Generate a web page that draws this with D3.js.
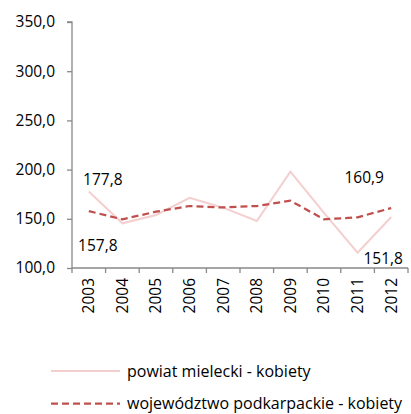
<!DOCTYPE html>
<html>
<head>
<meta charset="utf-8">
<script src="https://cdn.jsdelivr.net/npm/d3@7"></script>
<style>
  html, body { margin: 0; padding: 0; background: #fff; }
  svg { display: block; font-family: "Open Sans", sans-serif; }
</style>
</head>
<body>
<svg id="chart" width="411" height="414"></svg>
<script>
// Years on the category axis
const years = ["2003", "2004", "2005", "2006", "2007", "2008", "2009", "2010", "2011", "2012"];
// Series values
const powiat = [177.8, 145.4, 153.9, 171.4, 161.3, 147.8, 197.9, 156.0, 115.5, 151.8];
const wojewodztwo = [157.8, 149.5, 157.2, 163.0, 161.5, 163.0, 168.4, 149.5, 151.5, 160.9];
// Series names
const seriesNames = ["powiat mielecki - kobiety", "województwo podkarpackie - kobiety"];
// Value axis ticks
const yTicks = [100, 150, 200, 250, 300, 350];
// Values written next to the first and last points
const labelled = [
  { series: 0, index: 0, value: 177.8, dx: 14, dy: -6 },
  { series: 1, index: 0, value: 157.8, dx: 9, dy: 40 },
  { series: 1, index: 9, value: 160.9, dx: -27, dy: -25 },
  { series: 0, index: 9, value: 151.8, dx: -8, dy: 47 }
];

const fmt = v => d3.format(".1f")(v).replace(".", ",");
const colors = ["#f4cfcf", "#c0504d"];
const fontSize = "15.5px";

const svg = d3.select("#chart");
const plotLeft = 72, plotRight = 408, plotTop = 22, plotBottom = 268;

const x = d3.scaleBand().domain(years).range([plotLeft, plotRight]);
const y = d3.scaleLinear().domain([100, 350]).range([plotBottom, plotTop]);

// Value axis
const yAxis = svg.append("g")
  .attr("transform", `translate(${plotLeft},0)`)
  .call(d3.axisLeft(y).tickValues(yTicks).tickSize(5).tickPadding(12).tickFormat(fmt));
// Category axis
const xAxis = svg.append("g")
  .attr("transform", `translate(0,${plotBottom})`)
  .call(d3.axisBottom(x).tickSize(0).tickFormat(d => d));

[yAxis, xAxis].forEach(g => {
  g.select(".domain").attr("stroke", "#898989").attr("stroke-width", 1.3);
  g.selectAll(".tick line").attr("stroke", "#898989").attr("stroke-width", 1.3);
  g.selectAll("text").attr("fill", "#000").style("font-size", fontSize)
    .style("font-family", "'Open Sans', sans-serif");
});
yAxis.select(".domain").attr("d", `M-5,${plotTop}H0V${plotBottom}`);
xAxis.select(".domain").attr("d", `M${plotLeft},0H${plotRight}`);

// Tick marks between categories
xAxis.selectAll(".sep")
  .data(d3.range(years.length + 1))
  .join("line")
  .attr("class", "sep")
  .attr("x1", i => plotLeft + i * x.step())
  .attr("x2", i => plotLeft + i * x.step())
  .attr("y1", 0).attr("y2", 5)
  .attr("stroke", "#898989").attr("stroke-width", 1.3);

xAxis.selectAll(".tick text")
  .attr("transform", "rotate(-90)")
  .attr("text-anchor", "end")
  .attr("x", -10)
  .attr("y", 0)
  .attr("dy", "0.35em");

// Lines
const cx = d => x(d) + x.bandwidth() / 2;
const line = d3.line().x((d, i) => cx(years[i])).y(d => y(d));

svg.append("path").datum(powiat)
  .attr("d", line).attr("fill", "none")
  .attr("stroke", colors[0]).attr("stroke-width", 2);

svg.append("path").datum(wojewodztwo)
  .attr("d", line).attr("fill", "none")
  .attr("stroke", colors[1]).attr("stroke-width", 2.25)
  .attr("stroke-dasharray", "7,4");

// Value labels
const allSeries = [powiat, wojewodztwo];
svg.selectAll(".vlabel")
  .data(labelled)
  .join("text")
  .attr("class", "vlabel")
  .attr("x", d => cx(years[d.index]) + d.dx)
  .attr("y", d => y(allSeries[d.series][d.index]) + d.dy)
  .attr("text-anchor", "middle")
  .style("font-size", fontSize)
  .attr("fill", "#000")
  .text(d => fmt(d.value));

// Legend
const legend = svg.append("g");
const legendRows = [
  { name: seriesNames[0], y: 371, color: colors[0], dash: null, w: 2 },
  { name: seriesNames[1], y: 403.5, color: colors[1], dash: "7,4", w: 2.25 }
];
legendRows.forEach(r => {
  legend.append("line")
    .attr("x1", 51).attr("x2", 120)
    .attr("y1", r.y).attr("y2", r.y)
    .attr("stroke", r.color).attr("stroke-width", r.w)
    .attr("stroke-dasharray", r.dash);
  legend.append("text")
    .attr("x", 127).attr("y", r.y)
    .attr("dy", "0.35em")
    .style("font-size", "16px")
    .attr("fill", "#000")
    .text(r.name);
});
</script>
</body>
</html>
